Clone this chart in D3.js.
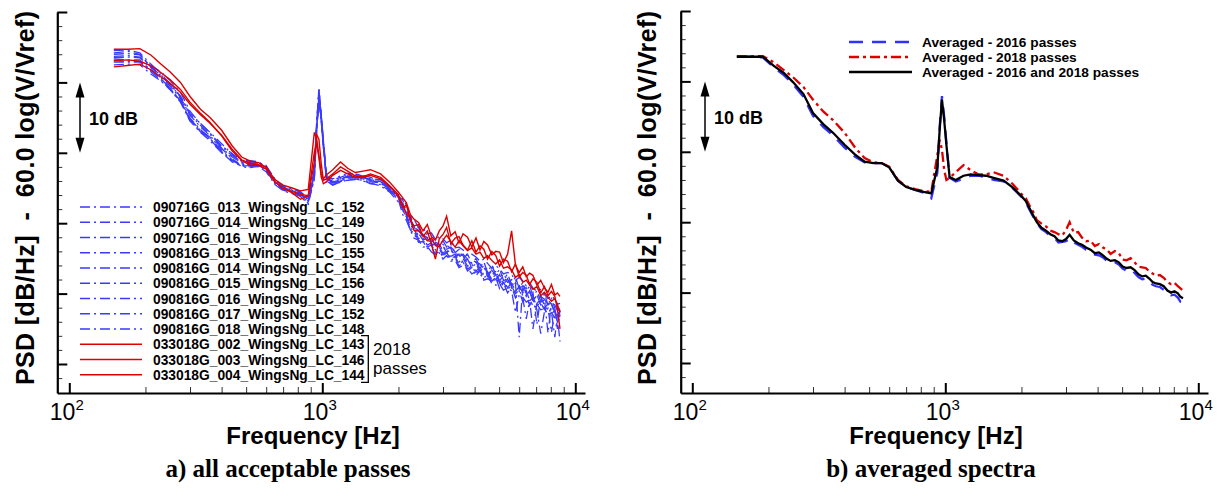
<!DOCTYPE html>
<html>
<head>
<meta charset="utf-8">
<script src="https://cdn.jsdelivr.net/npm/d3@7"></script>
<style>
  body { margin: 0; background: #fff; }
  svg { display: block; }
  text { font-family: "Liberation Sans", Arial, sans-serif; }
</style>
</head>
<body>
<div id="chart"></div>
<script>
// frequency grid [Hz] shared by all spectra (denser above 2 kHz where the spectra get noisy)
const freqs = [150, 170, 190, 210, 230, 250, 275, 300, 330, 360, 400, 440, 480, 520, 560, 600, 650, 700, 760, 820,
  880, 930, 950, 970, 990, 1010, 1040, 1100, 1180, 1260, 1350, 1450, 1550, 1700, 1850,
  2000, 2080, 2150, 2230, 2300, 2400, 2500, 2600, 2700, 2800, 2900, 3000, 3100, 3220, 3350, 3470, 3600, 3750, 3900,
  4050, 4200, 4350, 4500, 4680, 4850, 5020, 5200, 5400, 5600, 5800, 6000, 6200, 6400, 6600, 6800, 7050, 7300, 7550,
  7800, 8050, 8300, 8500, 8700];

const names2016 = ["090716G_013_WingsNg_LC_152", "090716G_014_WingsNg_LC_149", "090716G_016_WingsNg_LC_150",
  "090816G_013_WingsNg_LC_155", "090816G_014_WingsNg_LC_154", "090816G_015_WingsNg_LC_156",
  "090816G_016_WingsNg_LC_149", "090816G_017_WingsNg_LC_152", "090816G_018_WingsNg_LC_148"];
const names2018 = ["033018G_002_WingsNg_LC_143", "033018G_003_WingsNg_LC_146", "033018G_004_WingsNg_LC_144"];

// PSD [dB] of each 2016 pass
const pass2016 = [
  [54.5,54.6,54.2,52.6,51.3,49.8,48.0,45.6,44.2,42.8,41.0,39.9,38.9,38.9,38.7,38.0,36.2,35.3,34.9,34.5,33.2,36.5,44.0,49.3,45.5,41.0,36.6,36.3,36.7,37.1,36.9,36.8,36.5,36.0,35.1,
   33.8,33.3,31.6,31.0,29.6,29.4,28.2,28.5,27.4,27.8,26.9,27.5,26.6,27.0,25.8,26.3,25.0,25.6,24.3,25.0,23.7,24.5,23.0,24.1,22.6,23.5,21.9,22.8,21.3,22.4,20.7,21.6,20.0,21.2,19.6,20.4,18.9,20.0,18.4,19.3,17.9,15.0,17.6],
  [54.0,54.1,53.9,52.3,50.6,49.1,47.4,44.6,43.0,41.9,40.1,38.7,38.1,38.2,38.0,37.3,35.5,34.6,34.2,33.9,33.0,36.2,43.0,48.3,44.6,40.7,35.8,35.5,35.8,36.2,36.3,36.0,35.7,35.3,34.4,
   33.0,31.9,30.8,29.0,28.6,27.3,27.4,26.4,26.5,25.6,26.0,25.2,25.9,24.7,25.1,23.9,24.5,23.2,23.7,22.5,23.3,22.0,22.6,21.4,22.3,20.7,21.5,20.1,21.0,19.4,20.4,18.8,19.8,18.3,19.2,17.7,14.3,17.4,17.9,14.5,17.3,16.0,16.9],
  [53.7,53.8,53.6,52.4,51.5,50.3,48.6,45.9,44.1,42.9,41.3,39.8,38.6,38.3,38.6,38.1,36.3,35.2,34.4,34.0,33.6,37.5,44.2,48.7,45.3,41.6,36.1,35.6,36.0,36.4,36.8,36.2,35.8,36.0,34.6,
   33.5,32.9,31.0,30.5,29.6,28.2,28.4,27.9,26.9,27.3,27.0,26.1,26.9,26.4,25.3,25.7,25.4,24.2,24.7,24.5,23.4,24.0,22.8,23.3,23.1,21.8,22.6,22.1,21.0,21.9,21.2,20.1,20.8,20.4,18.9,19.8,19.6,18.3,19.1,18.5,17.2,18.2,17.6],
  [53.3,53.2,53.2,51.7,50.7,49.5,47.7,44.9,43.3,42.0,40.4,39.0,38.4,38.6,38.2,37.6,35.8,34.8,34.5,34.3,33.1,37.2,43.6,47.9,44.9,41.2,36.4,35.9,36.4,36.5,36.4,36.5,36.1,35.7,34.9,
   33.9,32.0,31.3,29.6,29.3,27.8,28.0,26.9,27.2,26.2,26.6,25.7,26.3,25.3,25.6,24.5,25.0,23.9,24.2,23.2,23.8,22.6,23.1,22.0,22.8,21.5,22.1,20.8,21.6,20.3,21.0,19.7,20.4,19.0,15.0,18.6,19.2,17.9,18.6,17.4,13.8,16.9,17.5],
  [52.9,52.9,52.9,51.5,50.3,49.0,47.2,44.5,42.9,41.7,40.0,38.9,38.2,38.0,38.2,37.5,35.6,34.7,34.3,33.8,32.7,36.4,43.2,47.3,44.4,40.9,36.0,35.4,35.9,36.1,36.2,36.1,35.6,35.5,34.5,
   33.3,31.2,30.4,29.0,27.9,27.6,26.6,26.7,25.9,25.5,25.8,24.9,25.4,24.6,24.7,23.7,24.0,23.6,22.8,23.1,22.9,21.9,22.1,21.8,21.2,21.4,20.5,20.8,20.4,17.3,19.8,19.5,18.8,19.1,18.3,18.5,17.7,17.9,17.0,17.3,16.6,16.8,16.0],
  [52.5,52.6,52.5,51.2,50.2,49.0,47.3,44.8,43.2,42.2,40.6,39.2,38.0,37.9,38.1,37.7,35.9,35.0,34.7,34.1,33.5,36.8,43.4,48.0,45.2,41.4,36.2,35.7,36.1,36.4,36.5,36.3,35.9,35.7,34.7,
   33.7,32.7,31.1,30.4,28.9,28.6,27.6,27.9,26.8,27.1,26.1,26.8,25.8,26.3,25.1,25.6,24.4,24.9,23.7,24.3,23.1,23.8,22.4,23.3,22.0,22.7,21.3,22.1,20.8,21.5,13.8,20.9,19.6,20.4,19.0,19.8,18.4,19.2,14.4,18.6,17.3,18.0,16.8],
  [54.2,54.4,54.0,52.2,51.0,49.7,48.1,45.4,43.9,42.6,40.9,39.6,38.8,38.7,38.6,38.2,36.1,35.3,34.9,34.4,33.7,37.4,44.4,48.9,45.6,41.8,36.8,36.2,36.5,36.9,37.0,36.7,36.3,36.2,35.2,
   34.1,33.4,32.6,31.1,30.6,29.4,29.3,28.5,28.6,27.7,28.1,27.8,27.2,27.6,26.5,26.6,26.2,25.4,25.6,25.2,24.6,24.9,24.3,23.6,24.0,23.5,22.8,23.0,22.7,21.9,22.3,21.8,21.1,21.5,20.8,20.3,20.6,19.9,19.3,19.7,19.2,18.5,18.6],
  [53.1,53.0,53.0,51.8,50.5,49.2,47.4,44.7,43.1,42.0,40.2,38.9,38.3,38.3,38.3,37.5,35.7,34.9,34.6,34.3,32.8,37.6,43.8,47.5,44.8,41.1,36.3,35.8,36.3,36.7,36.5,36.6,36.2,35.9,34.9,
   33.6,31.8,30.9,29.3,28.9,27.5,27.6,26.6,26.9,25.9,26.3,25.5,25.9,25.0,25.3,24.2,24.6,23.5,23.9,22.9,23.4,22.2,22.7,21.8,22.3,21.2,21.6,20.6,21.1,20.0,20.5,19.4,16.4,19.0,19.4,18.3,18.7,17.7,18.1,17.1,17.6,16.6,13.2],
  [53.5,53.6,53.5,52.1,51.1,49.8,47.9,45.3,43.7,42.4,40.7,39.4,38.6,38.5,38.5,37.9,36.0,35.1,34.7,34.2,33.3,37.1,43.6,48.2,45.1,41.5,36.5,35.9,36.2,36.7,36.7,36.5,36.1,35.9,34.8,
   33.7,32.7,31.9,30.4,29.4,29.0,28.1,28.0,27.7,26.9,27.1,27.0,26.3,26.6,26.0,25.2,25.6,24.9,24.2,24.5,24.2,23.4,23.6,23.3,22.6,22.9,22.4,21.6,22.0,21.5,20.7,21.1,20.7,19.9,20.2,15.6,19.6,19.2,18.4,18.7,18.4,17.6,17.8]
];

// PSD [dB] of each 2018 pass
const pass2018 = [
  [54.7,54.7,54.8,53.9,52.6,51.5,50.0,48.0,46.2,45.0,43.2,41.0,39.4,38.8,38.6,37.9,36.2,35.4,35.0,34.6,34.8,42.9,42.0,39.6,37.0,36.3,36.9,37.6,38.7,37.8,37.2,37.4,37.6,37.0,35.8,
   34.4,33.6,32.9,31.2,30.6,30.1,28.9,29.8,28.1,27.6,28.9,29.6,31.0,28.2,28.8,27.2,28.5,28.0,26.6,27.9,26.2,27.4,26.9,25.5,26.0,25.9,24.4,25.6,28.9,24.1,23.0,23.8,22.4,22.9,22.6,21.2,21.9,20.8,20.2,21.3,19.8,20.1,19.6],
  [53.1,53.2,53.0,52.4,51.4,50.4,49.0,47.2,45.6,44.3,42.4,40.3,38.9,38.2,38.3,38.0,35.9,34.9,34.5,34.1,33.9,40.1,41.2,39.3,36.6,35.6,35.9,36.8,37.5,37.0,36.5,36.5,36.8,36.3,35.2,
   33.8,32.2,32.6,30.4,29.6,29.8,28.1,28.9,27.0,24.9,27.8,28.4,29.4,27.1,27.9,28.1,26.9,26.2,27.5,25.9,26.8,26.3,24.9,26.0,25.4,23.9,24.9,24.6,23.1,24.2,22.4,23.0,22.6,21.3,22.1,21.6,20.1,21.0,19.7,20.3,19.6,17.8,15.0],
  [52.2,52.4,52.6,51.8,50.8,49.9,48.6,46.9,45.4,44.2,42.5,40.5,39.0,38.5,38.2,37.7,35.8,35.0,34.3,33.4,33.9,38.6,42.6,41.9,38.5,36.1,36.3,37.0,38.0,37.4,36.7,36.6,37.0,36.5,35.3,
   34.0,32.6,31.3,30.8,29.0,28.9,28.3,27.5,27.9,26.8,26.7,27.6,28.3,27.4,26.6,27.5,26.8,26.1,26.5,25.6,25.9,25.0,25.4,24.7,24.2,24.8,23.6,23.8,23.4,22.3,22.7,21.6,21.9,21.2,20.6,21.0,19.7,20.2,19.5,18.9,19.3,18.4,17.4]
];

// averaged spectra [dB]
const avg2016 = [53.5,53.5,53.4,52.0,50.9,49.6,47.8,45.1,43.5,42.3,40.6,39.3,38.5,38.4,38.4,37.8,35.9,35.0,34.6,34.2,33.4,37.0,43.5,47.9,45.0,41.3,36.3,35.8,36.2,36.6,36.6,36.4,36.0,35.8,34.8,
  33.6,32.8,31.8,30.7,29.9,29.0,28.6,28.0,27.8,27.1,27.2,27.3,27.7,27.1,26.8,26.5,26.1,25.8,25.4,25.3,25.0,24.5,24.2,24.3,24.0,23.4,23.1,23.3,22.8,22.2,21.9,22.0,21.6,21.1,20.9,20.8,20.4,19.8,19.6,19.7,19.3,18.7,18.6];
const avg2018 = [53.6,53.6,53.6,52.7,51.6,50.6,49.2,47.4,45.7,44.5,42.7,40.6,39.1,38.5,38.4,37.9,36.0,35.1,34.7,34.4,34.3,39.5,41.7,40.3,37.4,36.0,36.3,37.1,38.1,37.4,36.8,36.8,37.1,36.6,35.4,
  34.0,33.4,32.4,31.4,30.3,29.8,29.4,28.8,28.6,28.3,28.1,28.9,30.0,28.5,28.6,27.8,27.3,27.4,26.6,26.9,26.4,26.1,25.5,25.9,25.6,24.7,24.6,24.9,24.3,23.7,23.6,23.5,23.0,22.7,22.4,22.5,22.1,21.5,21.2,21.4,20.9,20.6,20.3];
const avgAll = [53.5,53.5,53.5,52.2,51.2,49.9,48.2,45.5,43.9,42.7,41.0,39.6,38.6,38.4,38.4,37.8,35.9,35.0,34.6,34.3,34.1,37.8,43.1,47.4,44.5,41.0,36.4,36.0,36.6,36.8,36.7,36.6,36.3,35.9,34.9,
  33.7,33.0,32.0,30.9,30.0,29.2,28.8,28.3,28.0,27.4,27.3,27.6,28.2,27.4,27.0,26.8,26.4,26.1,25.6,25.7,25.3,24.8,24.5,24.6,24.3,23.7,23.5,23.6,23.2,22.6,22.3,22.4,22.0,21.5,21.3,21.2,20.9,20.3,20.0,20.2,19.9,19.4,19.2];

const avgNames = ["Averaged - 2016 passes", "Averaged - 2018 passes", "Averaged - 2016 and 2018 passes"];
const xMajor = [100, 1000, 10000];
const yMajor = [10, 20, 30, 40, 50, 60];
const yMinor = [8, 12, 14, 16, 18, 22, 24, 26, 28, 32, 34, 36, 38, 42, 44, 46, 48, 52, 54, 56, 58];
const dBspan = [50, 40]; // the "10 dB" arrow

const W = 1217, H = 488;
const svg = d3.select("#chart").append("svg").attr("width", W).attr("height", H);

const xMinor = [];
[100, 1000].forEach(d => { for (let k = 2; k <= 9; k++) xMinor.push(d * k); });

function makePanel(p) {
  const g = svg.append("g");
  // log x scale: decade = 253px
  const base = d3.scaleLog().domain([100, 10000]).range([p.x100, p.x100 + 506]);
  const x = d3.scaleLog().domain([base.invert(p.left), base.invert(p.right)]).range([p.left, p.right]);
  const yb = d3.scaleLinear().domain([10, 60]).range([p.top + 352, p.top]);
  const y = d3.scaleLinear().domain([yb.invert(p.bottom), 60]).range([p.bottom, p.top]);

  // axes
  g.append("g").attr("transform", `translate(0,${p.bottom})`)
    .call(d3.axisBottom(x).tickValues(xMinor).tickSize(-6).tickSizeOuter(0).tickFormat(""))
    .call(a => a.select(".domain").remove())
    .call(a => a.selectAll("line").attr("stroke", "#333").attr("stroke-width", 1));
  const xa = g.append("g").attr("transform", `translate(0,${p.bottom})`)
    .call(d3.axisBottom(x).tickValues(xMajor).tickSize(-10).tickSizeOuter(0).tickFormat(""));
  xa.select(".domain").attr("stroke-width", 2.2);
  xa.selectAll("line").attr("stroke-width", 2);
  xa.selectAll(".tick").append("text")
    .attr("fill", "#000").attr("y", 26.5).attr("x", -3).attr("text-anchor", "middle")
    .style("font-size", "23px")
    .each(function (d) {
      const t = d3.select(this);
      t.append("tspan").text("10");
      t.append("tspan").attr("dy", -10).style("font-size", "15px").text(Math.round(Math.log10(d)));
    });

  g.append("g").attr("transform", `translate(${p.left},0)`)
    .call(d3.axisLeft(y).tickValues(yMinor).tickSize(-5).tickSizeOuter(0).tickFormat(""))
    .call(a => a.select(".domain").remove())
    .call(a => a.selectAll("line").attr("stroke", "#333").attr("stroke-width", 1));
  const ya = g.append("g").attr("transform", `translate(${p.left},0)`)
    .call(d3.axisLeft(y).tickValues(yMajor).tickSize(-10).tickSizeOuter(0).tickFormat(""));
  ya.select(".domain").attr("stroke-width", 2.2);
  ya.selectAll("line").attr("stroke-width", 2);

  // axis titles
  g.append("text").attr("x", p.xTitle).attr("y", 444).attr("text-anchor", "middle")
    .style("font-size", "24px").style("font-weight", "bold").text("Frequency [Hz]");
  g.append("text").attr("transform", `translate(${p.yTitleX},198) rotate(-90)`).attr("text-anchor", "middle")
    .style("font-size", "25px").style("font-weight", "bold").attr("xml:space", "preserve")
    .attr("textLength", 374).attr("lengthAdjust", "spacing")
    .text("PSD [dB/Hz]  -  60.0 log(V/Vref)");
  g.append("text").attr("x", p.xCaption).attr("y", 477).attr("text-anchor", "middle")
    .style("font-family", "'Liberation Serif', 'Times New Roman', serif")
    .style("font-size", "25px").style("font-weight", "bold").text(p.caption);

  // 10 dB arrow
  const ay0 = y(dBspan[0]), ay1 = y(dBspan[1]);
  g.append("line").attr("x1", p.arrowX).attr("x2", p.arrowX).attr("y1", ay0 + 12).attr("y2", ay1 - 12)
    .attr("stroke", "#000").attr("stroke-width", 1.5);
  g.append("path").attr("d", `M${p.arrowX},${ay0}l-4.5,15h9z M${p.arrowX},${ay1}l-4.5,-15h9z`).attr("fill", "#000");
  g.append("text").attr("x", p.arrowX + 9).attr("y", (ay0 + ay1) / 2 + 7)
    .style("font-size", "18px").style("font-weight", "bold").text("10 dB");

  const line = d3.line().x((d, i) => x(freqs[i])).y(d => y(d));
  return { g, x, y, line };
}

// ---- panel a
const A = makePanel({ left: 57.3, right: 585, x100: 69.3, top: 12, bottom: 393, xTitle: 313, xCaption: 288,
  yTitleX: 34, arrowX: 80, caption: "a) all acceptable passes" });
const blueA = "#3a3aff", redA = "#dd0000";
A.g.selectAll(".p16").data(pass2016).join("path")
  .attr("d", A.line).attr("fill", "none").attr("stroke", blueA).attr("stroke-width", 1.3)
  .attr("stroke-dasharray", "10,4,2,4");
A.g.selectAll(".p18").data(pass2018).join("path")
  .attr("d", A.line).attr("fill", "none").attr("stroke", redA).attr("stroke-width", 1.4);

const legA = A.g.append("g");
const legItems = names2016.map(n => ({ n, c: blueA, dash: "10,4,2,4" }))
  .concat(names2018.map(n => ({ n, c: redA, dash: null })));
legItems.forEach((it, i) => {
  const cy = 207 + i * 15.25;
  legA.append("line").attr("x1", 80).attr("x2", 142).attr("y1", cy).attr("y2", cy)
    .attr("stroke", it.c).attr("stroke-width", 1.5).attr("stroke-dasharray", it.dash);
  legA.append("text").attr("x", 153).attr("y", cy + 5).style("font-size", "13.8px").style("font-weight", "bold").text(it.n);
});
legA.append("path").attr("d", "M361,335.7H368.3V382.3H361").attr("fill", "none").attr("stroke", "#000").attr("stroke-width", 1.3);
legA.append("text").attr("x", 373).attr("y", 355).style("font-size", "17px").text("2018");
legA.append("text").attr("x", 373).attr("y", 374).style("font-size", "17px").text("passes");

// ---- panel b
const B = makePanel({ left: 680.7, right: 1208, x100: 692.3, top: 11, bottom: 393, xTitle: 936, xCaption: 931,
  yTitleX: 656, arrowX: 705, caption: "b) averaged spectra" });
const avgStyles = [
  { c: "#3030ff", dash: "14,9" },
  { c: "#dd0000", dash: "10,4,3,4" },
  { c: "#000000", dash: null }
];
[avg2016, avg2018, avgAll].forEach((s, i) => {
  B.g.append("path").datum(s).attr("d", B.line).attr("fill", "none")
    .attr("stroke", avgStyles[i].c).attr("stroke-width", 2.3).attr("stroke-dasharray", avgStyles[i].dash);
});
avgNames.forEach((n, i) => {
  const cy = 42 + i * 15;
  B.g.append("line").attr("x1", 849).attr("x2", 912).attr("y1", cy).attr("y2", cy)
    .attr("stroke", avgStyles[i].c).attr("stroke-width", 2.3).attr("stroke-dasharray", avgStyles[i].dash);
  B.g.append("text").attr("x", 922).attr("y", cy + 5).style("font-size", "13.7px").style("font-weight", "bold").text(n);
});
</script>
</body>
</html>
